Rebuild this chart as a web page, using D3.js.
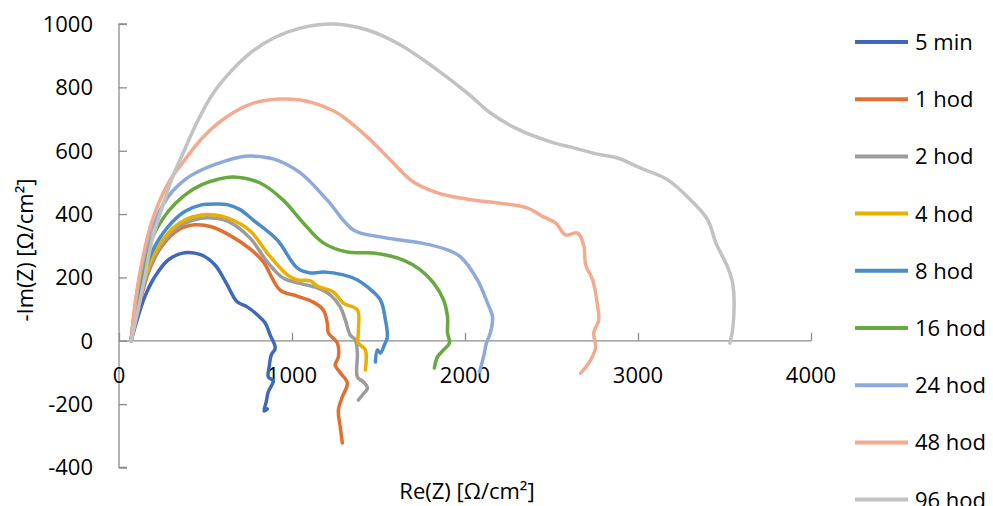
<!DOCTYPE html>
<html>
<head>
<meta charset="utf-8">
<script src="https://cdn.jsdelivr.net/npm/d3@7/dist/d3.min.js"></script>
<style>
  body { margin: 0; background: #fff; }
  svg text { font-family: "Open Sans", sans-serif; fill: #000; }
</style>
</head>
<body>
<div id="chart"></div>
<script>
// series names (legend order)
const seriesNames = ["5 min", "1 hod", "2 hod", "4 hod", "8 hod", "16 hod", "24 hod", "48 hod", "96 hod"];

// [Re(Z), -Im(Z)]
const min5 = [[70,0],[110,76],[149,139],[207,202],[284,255],[380,278],[476,271],[554,240],[621,181],[683,123],[741,107],[799,82],[845,56],[874,18],[903,-23],[880,-45],[868,-83],[863,-114],[891,-127],[863,-161],[851,-193],[839,-222],[857,-215]];
const hod1 = [[70,0],[110,97],[168,213],[245,297],[342,350],[438,366],[534,360],[631,336],[758,290],[834,249],[932,160],[1030,141],[1123,122],[1181,97],[1204,56],[1210,25],[1262,-7],[1268,-51],[1250,-76],[1279,-101],[1320,-133],[1291,-177],[1268,-218],[1279,-272],[1291,-323]];
const hod2 = [[70,0],[110,112],[187,245],[284,330],[380,371],[476,387],[554,387],[631,377],[758,324],[857,249],[949,198],[1030,183],[1146,167],[1221,145],[1279,107],[1308,66],[1337,18],[1366,3],[1378,-39],[1378,-114],[1413,-130],[1436,-149],[1407,-171],[1384,-187]];
const hod4 = [[70,0],[110,118],[187,255],[284,340],[380,381],[476,397],[554,397],[631,387],[758,347],[857,277],[973,208],[1030,192],[1106,189],[1146,173],[1239,154],[1297,119],[1378,97],[1384,34],[1384,-7],[1424,-29],[1424,-92]];
const hod8 = [[70,0],[110,139],[187,276],[284,360],[380,408],[476,429],[573,432],[631,429],[700,414],[776,381],[915,318],[1030,230],[1106,214],[1181,217],[1297,208],[1378,192],[1436,170],[1511,129],[1540,66],[1551,12],[1534,-13],[1511,-39],[1494,-29],[1482,-67]];
const hod16 = [[70,0],[110,160],[187,318],[284,408],[380,460],[476,492],[573,510],[660,517],[816,498],[949,444],[1065,372],[1181,309],[1320,280],[1470,277],[1644,255],[1742,224],[1818,183],[1876,129],[1899,75],[1899,25],[1910,-7],[1876,-29],[1841,-51],[1823,-86]];
const hod24 = [[70,0],[110,171],[187,350],[284,455],[380,508],[476,539],[573,560],[700,580],[758,583],[891,574],[1048,530],[1204,444],[1355,350],[1511,328],[1627,318],[1742,309],[1899,287],[1974,265],[2072,192],[2130,119],[2159,75],[2148,28],[2124,-7],[2107,-51],[2084,-98]];
const hod48 = [[70,0],[110,181],[187,371],[284,497],[380,571],[488,644],[623,707],[777,750],[932,763],[1048,760],[1123,751],[1262,719],[1436,643],[1586,561],[1702,501],[1841,467],[2014,447],[2206,434],[2362,419],[2454,391],[2524,372],[2582,334],[2651,340],[2686,302],[2698,239],[2738,192],[2767,107],[2773,66],[2744,25],[2755,-20],[2726,-61],[2669,-102]];
const hod96 = [[70,0],[110,97],[149,202],[187,308],[245,413],[303,508],[370,592],[452,691],[538,776],[643,848],[758,908],[891,955],[1048,987],[1239,1000],[1436,981],[1627,934],[1818,864],[2014,782],[2148,719],[2304,668],[2495,628],[2628,609],[2784,587],[2883,577],[3016,545],[3172,508],[3305,444],[3404,381],[3450,309],[3520,230],[3549,176],[3549,44],[3531,-7]];

const seriesValues = [min5, hod1, hod2, hod4, hod8, hod16, hod24, hod48, hod96];

const xTicks = [0, 1000, 2000, 3000, 4000];
const yTicks = [-400, -200, 0, 200, 400, 600, 800, 1000];

const COLORS = ["#4068b8", "#e07030", "#9c9c9c", "#e8b000", "#4a8cc8", "#68a840", "#8eaadc", "#f4aa8e", "#c2c2c2"];
const AXIS_COLOR = "#8c8c8c";
const WIDTH = 993, HEIGHT = 506;

const svg = d3.select("#chart").append("svg")
    .attr("width", WIDTH)
    .attr("height", HEIGHT);

const x = d3.scaleLinear().domain([0, 4000]).range([119, 811]);
const y = d3.scaleLinear().domain([-400, 1000]).range([467.5, 24]);

// y axis (ticks pointing into the plot)
const yAxis = svg.append("g").attr("transform", `translate(${x(0)},0)`)
    .call(d3.axisRight(y).tickValues(yTicks).tickSize(8).tickFormat(""));
yAxis.select(".domain").attr("d", `M8,${y(1000)}H0V${y(-400)}H8`);
yAxis.selectAll("path, line").attr("stroke", AXIS_COLOR).attr("stroke-width", 1.3);

svg.append("g").selectAll("text")
    .data(yTicks)
    .join("text")
    .attr("x", 93)
    .attr("y", d => y(d))
    .attr("dy", "0.36em")
    .attr("text-anchor", "end")
    .attr("font-size", 22)
    .text(d => d);

// x axis at y = 0, ticks pointing up
const xAxis = svg.append("g").attr("transform", `translate(0,${y(0)})`)
    .call(d3.axisTop(x).tickValues(xTicks).tickSize(8).tickFormat(""));
xAxis.select(".domain").attr("d", `M${x(0)},0H${x(4000)}`);
xAxis.selectAll("path, line").attr("stroke", AXIS_COLOR).attr("stroke-width", 1.3);

svg.append("g").selectAll("text")
    .data(xTicks)
    .join("text")
    .attr("x", d => x(d))
    .attr("y", y(0) + 42)
    .attr("text-anchor", "middle")
    .attr("font-size", 22)
    .text(d => d);

// axis titles
svg.append("text")
    .attr("transform", `translate(33,250) rotate(-90)`)
    .attr("text-anchor", "middle")
    .attr("font-size", 22)
    .text("-Im(Z) [\u03A9/cm\u00B2]");

svg.append("text")
    .attr("x", 467)
    .attr("y", 499)
    .attr("text-anchor", "middle")
    .attr("font-size", 22)
    .text("Re(Z)  [\u03A9/cm\u00B2]");

// curves
const line = d3.line()
    .x(d => x(d[0]))
    .y(d => y(d[1]))
    .curve(d3.curveCatmullRom.alpha(0.5));

svg.append("g").selectAll("path")
    .data(seriesValues)
    .join("path")
    .attr("d", line)
    .attr("fill", "none")
    .attr("stroke", (d, i) => COLORS[i])
    .attr("stroke-width", 3.5)
    .attr("stroke-linejoin", "round")
    .attr("stroke-linecap", "round");

// legend
const legend = svg.append("g");
seriesNames.forEach((name, i) => {
    const ly = 42 + i * 57.2;
    legend.append("line")
        .attr("x1", 855).attr("x2", 908)
        .attr("y1", ly).attr("y2", ly)
        .attr("stroke", COLORS[i])
        .attr("stroke-width", 4);
    legend.append("text")
        .attr("x", 915)
        .attr("y", ly)
        .attr("dy", "0.36em")
        .attr("font-size", 22)
        .text(name);
});
</script>
</body>
</html>
